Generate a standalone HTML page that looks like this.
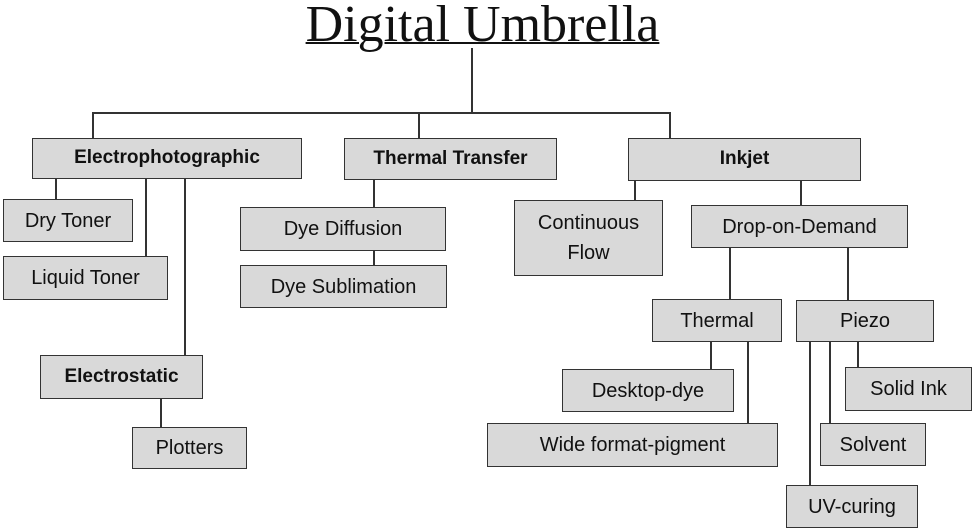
<!DOCTYPE html>
<html><head><style>
body{margin:0;width:973px;height:527px;background:#fff;position:relative;overflow:hidden;font-family:"Liberation Sans",sans-serif}
.b{position:absolute;box-sizing:border-box;background:#d9d9d9;border:1.5px solid #333;display:flex;align-items:center;justify-content:center;text-align:center;font-size:20px;color:#111;line-height:1.4}
.bd{font-weight:bold;font-size:19px}
.h{position:absolute;background:#333;height:1.5px}
.v{position:absolute;background:#333;width:1.5px}
#t{position:absolute;left:290px;top:-5px;width:385px;text-align:center;font-family:"Liberation Serif",serif;font-size:52px;text-decoration:underline;text-decoration-thickness:2px;color:#111}
</style></head><body>
<div id="t">Digital Umbrella</div>
<div class="v" style="left:471px;top:48px;height:65px"></div>
<div class="h" style="left:92px;top:112px;width:578px"></div>
<div class="v" style="left:92px;top:112px;height:27px"></div>
<div class="v" style="left:418px;top:112px;height:27px"></div>
<div class="v" style="left:669px;top:112px;height:27px"></div>

<div class="v" style="left:55px;top:178px;height:22px"></div>
<div class="v" style="left:145px;top:178px;height:79px"></div>
<div class="v" style="left:184px;top:178px;height:178px"></div>
<div class="v" style="left:160px;top:398px;height:30px"></div>
<div class="v" style="left:373px;top:179px;height:29px"></div>
<div class="v" style="left:373px;top:250px;height:16px"></div>
<div class="v" style="left:634px;top:180px;height:21px"></div>
<div class="v" style="left:800px;top:180px;height:26px"></div>
<div class="v" style="left:729px;top:247px;height:53px"></div>
<div class="v" style="left:847px;top:247px;height:54px"></div>
<div class="v" style="left:710px;top:341px;height:29px"></div>
<div class="v" style="left:747px;top:341px;height:83px"></div>
<div class="v" style="left:809px;top:341px;height:145px"></div>
<div class="v" style="left:829px;top:341px;height:83px"></div>
<div class="v" style="left:857px;top:341px;height:27px"></div>

<div class="b bd" style="left:32px;top:138px;width:270px;height:41px">Electrophotographic</div>
<div class="b bd" style="left:344px;top:138px;width:213px;height:42px">Thermal Transfer</div>
<div class="b bd" style="left:628px;top:138px;width:233px;height:43px">Inkjet</div>
<div class="b" style="left:3px;top:199px;width:130px;height:43px">Dry Toner</div>
<div class="b" style="left:3px;top:256px;width:165px;height:44px">Liquid Toner</div>
<div class="b bd" style="left:40px;top:355px;width:163px;height:44px">Electrostatic</div>
<div class="b" style="left:132px;top:427px;width:115px;height:42px">Plotters</div>
<div class="b" style="left:240px;top:207px;width:206px;height:44px">Dye Diffusion</div>
<div class="b" style="left:240px;top:265px;width:207px;height:43px">Dye Sublimation</div>
<div class="b" style="left:514px;top:200px;width:149px;height:76px;line-height:1.5">Continuous<br>Flow</div>
<div class="b" style="left:691px;top:205px;width:217px;height:43px">Drop-on-Demand</div>
<div class="b" style="left:652px;top:299px;width:130px;height:43px">Thermal</div>
<div class="b" style="left:796px;top:300px;width:138px;height:42px">Piezo</div>
<div class="b" style="left:562px;top:369px;width:172px;height:43px">Desktop-dye</div>
<div class="b" style="left:487px;top:423px;width:291px;height:44px">Wide format-pigment</div>
<div class="b" style="left:845px;top:367px;width:127px;height:44px">Solid Ink</div>
<div class="b" style="left:820px;top:423px;width:106px;height:43px">Solvent</div>
<div class="b" style="left:786px;top:485px;width:132px;height:43px">UV-curing</div>
</body></html>
